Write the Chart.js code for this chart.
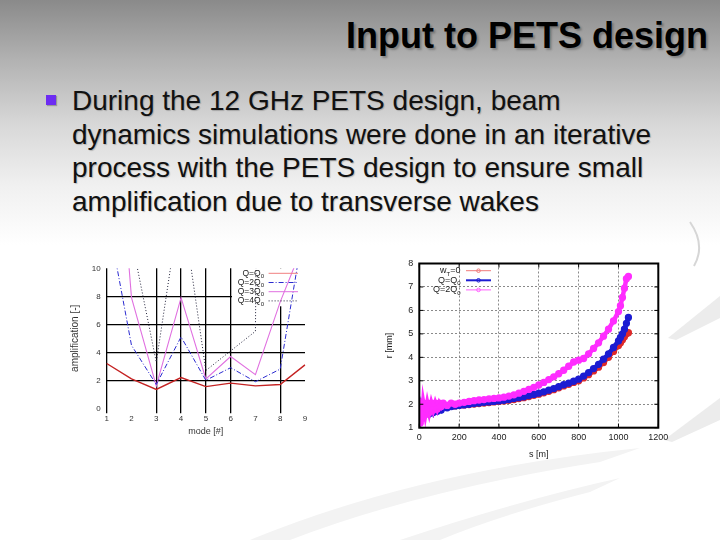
<!DOCTYPE html>
<html>
<head>
<meta charset="utf-8">
<script src="https://cdn.jsdelivr.net/npm/chart.js@4.4.0/dist/chart.umd.min.js"></script>
<style>
body { margin: 0; }
#slide {
  position: relative; width: 720px; height: 540px; overflow: hidden;
  background: linear-gradient(to bottom, #8a8a8a 0px, #b2b2b2 60px, #d8d8d8 125px, #f0f0f0 185px, #ffffff 245px);
  font-family: "Liberation Sans", Arial, sans-serif;
}
#title { position: absolute; right: 12px; top: 15px; font-weight: bold; font-size: 36px; color: #000;
  text-shadow: 2px 2px 2px rgba(0,0,0,0.25); white-space: nowrap; }
#bullet { position: absolute; left: 46px; top: 95px; width: 10px; height: 10px; background: #6d2cf2;
  box-shadow: 1px 1px 1px rgba(0,0,0,0.25); }
#body { position: absolute; left: 72px; top: 84px; font-size: 28px; line-height: 33.5px; color: #111;
  text-shadow: 1px 1px 1px rgba(0,0,0,0.2); white-space: nowrap; }
#deco { position: absolute; left: 0; top: 0; }
canvas { position: absolute; }
#ampChart { left: 60px; top: 258px; }
#radChart { left: 380px; top: 255px; }
</style>
</head>
<body>
<div id="slide">
  <svg id="deco" width="720" height="540">
    <path d="M690 222 Q706 245 694 266" stroke="#d6d6d6" stroke-width="2" fill="none"/>
    <path d="M668 338 L720 296 L720 318 L676 340 Z" fill="#ececec"/>
    <path d="M664 440 L720 398 L720 420 L672 442 Z" fill="#ececec"/>
    <path d="M250 540 Q420 470 640 448 L600 462 Q420 490 290 540 Z" fill="#f3f3f3"/>
    <path d="M400 540 Q520 500 620 478 L590 492 Q500 515 440 540 Z" fill="#f3f3f3"/>
  </svg>
  <div id="title">Input to PETS design</div>
  <div id="bullet"></div>
  <div id="body">During the 12 GHz PETS design, beam<br>dynamics simulations were done in an iterative<br>process with the PETS design to ensure small<br>amplification due to transverse wakes</div>
  <canvas id="ampChart" width="250" height="183"></canvas>
  <canvas id="radChart" width="292" height="215"></canvas>
</div>
<script>
// left plot: amplification per mode
var modes = [1, 2, 3, 4, 5, 6, 7, 8, 9];
var ampQ1 = [3.2, 2.1, 1.35, 2.2, 1.55, 1.8, 1.6, 1.7, 3.1];
var ampQ2 = [14, 4.5, 1.7, 5.1, 2.0, 2.9, 1.9, 2.8, 13.4];
var ampQ3 = [30, 7.9, 1.6, 7.9, 2.1, 3.7, 2.4, 7.6, 12];
var ampQ4 = [20, 12.1, 3.3, 15, 2.7, 4.1, 5.5, 200, 200];
var ampKey = [['Q=Q', '0', ''], ['Q=2Q', '0', ''], ['Q=3Q', '0', ''], ['Q=4Q', '0', '']];

// right plot: beam radius along the decelerator
var sPos = [0, 5, 10, 15, 20, 30, 40, 50, 60, 70, 80, 90, 100, 110, 120, 140, 160, 180, 200, 225, 250, 275, 300, 325, 350, 375, 400, 425, 450, 475, 500, 525, 550, 575, 600, 625, 650, 675, 700, 725, 750, 775, 800, 825, 850, 875, 900, 925, 950, 975, 1000, 1010, 1020, 1030, 1040, 1050];
var rNoWake = [1.95, 1.6, 1.85, 1.7, 1.9, 1.75, 1.9, 1.8, 1.9, 1.8, 1.9, 1.85, 1.9, 1.88, 1.9, 1.9, 1.92, 1.93, 1.95, 1.97, 1.99, 2.01, 2.03, 2.05, 2.07, 2.1, 2.12, 2.14, 2.17, 2.2, 2.24, 2.28, 2.33, 2.38, 2.43, 2.49, 2.55, 2.62, 2.7, 2.78, 2.85, 2.93, 3.0, 3.12, 3.26, 3.42, 3.58, 3.78, 4.0, 4.25, 4.5, 4.62, 4.75, 4.88, 5.0, 5.05];
var rQ1 = [1.9, 1.5, 1.8, 1.6, 1.85, 1.65, 1.85, 1.6, 1.85, 1.65, 1.85, 1.7, 1.85, 1.75, 1.88, 1.85, 1.9, 1.93, 1.95, 1.97, 2.0, 2.03, 2.05, 2.08, 2.1, 2.12, 2.14, 2.17, 2.2, 2.24, 2.28, 2.32, 2.37, 2.42, 2.47, 2.53, 2.6, 2.67, 2.75, 2.83, 2.9, 2.98, 3.07, 3.2, 3.35, 3.52, 3.7, 3.92, 4.15, 4.42, 4.7, 4.85, 5.0, 5.2, 5.45, 5.7];
var rQ2 = [2.1, 1.2, 1.9, 1.4, 2.05, 1.55, 2.05, 1.65, 2.05, 1.75, 2.05, 1.8, 2.05, 1.9, 2.05, 1.95, 2.05, 2.0, 2.05, 2.08, 2.12, 2.15, 2.18, 2.2, 2.23, 2.25, 2.27, 2.3, 2.35, 2.4, 2.47, 2.55, 2.63, 2.72, 2.82, 2.93, 3.05, 3.17, 3.3, 3.45, 3.62, 3.8, 3.88, 3.95, 4.15, 4.38, 4.62, 4.9, 5.2, 5.55, 5.95, 6.2, 6.55, 6.95, 7.35, 7.45];
var radKey = [['w', 'T', '=0'], ['Q=Q', '0', ''], ['Q=2Q', '0', '']];

Chart.defaults.font.family = '"Liberation Sans", Arial, sans-serif';
Chart.defaults.color = '#222';

function pairs(xs, ys) {
    return xs.map(function (x, i) { return {x: x, y: ys[i]}; });
}

// fixed axis sizes so the plot boxes land where the picture has them
function fixW(w) {
    return function (s) { s.width = w; s.paddingTop = 0; s.paddingBottom = 0; };
}
function fixH(h) {
    return function (s) { s.height = h; s.paddingLeft = 0; s.paddingRight = 0; };
}

// legend drawn inside the plot like gnuplot's key
var keyPlugin = {
    id: 'keyBox',
    beforeDatasetsDraw: function (chart, args, o) {
        if (!o.bg) return;
        var ctx = chart.ctx;
        ctx.save();
        ctx.fillStyle = o.bg;
        ctx.fillRect(o.box[0], o.box[1], o.box[2], o.box[3]);
        ctx.restore();
    },
    afterDatasetsDraw: function (chart, args, o) {
        var ctx = chart.ctx;
        ctx.save();
        ctx.textBaseline = 'middle';
        o.items.forEach(function (it, i) {
            var ds = chart.data.datasets[i];
            var y = o.y + i * o.rowH;
            var big = o.size + 'px "Liberation Sans"';
            var small = Math.round(o.size * 0.72) + 'px "Liberation Sans"';
            ctx.font = big;
            var w1 = ctx.measureText(it[0]).width, w3 = ctx.measureText(it[2]).width;
            ctx.font = small;
            var w2 = ctx.measureText(it[1]).width;
            var x = o.textRight - w1 - w2 - w3;
            ctx.fillStyle = '#222';
            ctx.font = big;
            ctx.fillText(it[0], x, y);
            ctx.font = small;
            ctx.fillText(it[1], x + w1, y + o.size * 0.35);
            ctx.font = big;
            ctx.fillText(it[2], x + w1 + w2, y);
            ctx.strokeStyle = o.colors ? o.colors[i] : ds.borderColor;
            ctx.lineWidth = o.widths ? o.widths[i] : ds.borderWidth;
            ctx.setLineDash(ds.borderDash || []);
            ctx.beginPath();
            ctx.moveTo(o.x0, y);
            ctx.lineTo(o.x1, y);
            ctx.stroke();
            if (o.marker) {
                ctx.setLineDash([]);
                ctx.lineWidth = 1;
                ctx.beginPath();
                ctx.arc((o.x0 + o.x1) / 2, y, 1.8, 0, Math.PI * 2);
                ctx.stroke();
            }
        });
        ctx.restore();
    }
};

// gnuplot style box with inward ticks
var framePlugin = {
    id: 'frame',
    afterDatasetsDraw: function (chart) {
        var a = chart.chartArea, ctx = chart.ctx;
        ctx.save();
        ctx.strokeStyle = '#000';
        ctx.lineWidth = 2;
        ctx.strokeRect(a.left, a.top, a.right - a.left, a.bottom - a.top);
        ctx.lineWidth = 1;
        ctx.beginPath();
        chart.scales.x.ticks.forEach(function (t) {
            var px = chart.scales.x.getPixelForValue(t.value);
            ctx.moveTo(px, a.bottom); ctx.lineTo(px, a.bottom - 4);
            ctx.moveTo(px, a.top); ctx.lineTo(px, a.top + 4);
        });
        chart.scales.y.ticks.forEach(function (t) {
            var py = chart.scales.y.getPixelForValue(t.value);
            ctx.moveTo(a.left, py); ctx.lineTo(a.left + 4, py);
            ctx.moveTo(a.right, py); ctx.lineTo(a.right - 4, py);
        });
        ctx.stroke();
        ctx.restore();
    }
};

new Chart(document.getElementById('ampChart'), {
    type: 'line',
    data: {
        labels: modes,
        datasets: [
            {label: 'Q=Q₀', data: ampQ1, borderColor: '#c42323', borderWidth: 1.4, pointRadius: 0},
            {label: 'Q=2Q₀', data: ampQ2, borderColor: '#2b2bd0', borderWidth: 1, borderDash: [5, 2, 1, 2], pointRadius: 0},
            {label: 'Q=3Q₀', data: ampQ3, borderColor: '#e070e0', borderWidth: 1.1, pointRadius: 0},
            {label: 'Q=4Q₀', data: ampQ4, borderColor: '#22223a', borderWidth: 1, borderDash: [1, 2], pointRadius: 0}
        ]
    },
    options: {
        responsive: false,
        animation: false,
        devicePixelRatio: 1,
        layout: {padding: {left: 0, right: 5, top: 10.3, bottom: 0}},
        plugins: {
            legend: {display: false},
            tooltip: {enabled: false},
            keyBox: {
                bg: '#ffffff', box: [172, 10.3, 73, 38],
                items: ampKey, y: 15.3, rowH: 9.2, size: 8.5, textRight: 204, x0: 208.6, x1: 238,
                colors: ['#f08080', '#2b2bd0', '#e070e0', '#22223a'], widths: [1, 1, 1, 1]
            }
        },
        scales: {
            x: {
                offset: false,
                afterFit: fixH(32.7),
                grid: {
                    color: function (c) { return [0, 2, 3, 4, 5, 7].indexOf(c.index) >= 0 ? '#000' : 'rgba(0,0,0,0)'; },
                    lineWidth: 1.3, tickLength: 5
                },
                border: {display: false},
                ticks: {font: {size: 8}, padding: 1, maxRotation: 0, color: '#333'},
                title: {display: true, text: 'mode [#]', font: {size: 9}, padding: {top: 0, bottom: 3.6}, color: '#333'}
            },
            y: {
                min: 0, max: 10,
                afterFit: fixW(46.7),
                grid: {
                    color: function (c) { return [2, 4, 6, 8].indexOf(c.tick.value) >= 0 ? '#000' : 'rgba(0,0,0,0)'; },
                    lineWidth: 1.3, drawTicks: false
                },
                border: {display: false},
                ticks: {stepSize: 2, font: {size: 8}, padding: 6, color: '#333'},
                title: {display: true, text: 'amplification [-]', font: {size: 10}, padding: {top: 9, bottom: 0}, color: '#333'}
            }
        }
    },
    plugins: [keyPlugin]
});

new Chart(document.getElementById('radChart'), {
    type: 'scatter',
    data: {
        datasets: [
            {label: 'Q=2Q₀', data: pairs(sPos, rQ2), borderColor: '#ff2cff', backgroundColor: '#ff2cff', showLine: true, borderWidth: 4.5, pointRadius: 1.4, order: 0},
            {label: 'Q=Q₀', data: pairs(sPos, rQ1), borderColor: '#1c1cd2', backgroundColor: '#1c1cd2', showLine: true, borderWidth: 4.5, pointRadius: 1.4, order: 1},
            {label: 'w_T=0', data: pairs(sPos, rNoWake), borderColor: '#de2a2a', backgroundColor: '#de2a2a', showLine: true, borderWidth: 4.5, pointRadius: 1.4, order: 2}
        ]
    },
    options: {
        responsive: false,
        animation: false,
        devicePixelRatio: 1,
        layout: {padding: {left: 0, right: 13.7, top: 8.3, bottom: 0}},
        plugins: {
            legend: {display: false},
            tooltip: {enabled: false},
            keyBox: {
                items: radKey, y: 15.7, rowH: 9.6, size: 9, textRight: 80.5, x0: 86, x1: 111,
                colors: ['#f07a7a', '#1c1cd2', '#ff60ff'], widths: [1, 2, 1], marker: true
            }
        },
        scales: {
            x: {
                type: 'linear', min: 0, max: 1200,
                afterFit: fixH(42.3),
                grid: {color: '#8a8a8a', lineWidth: 1, drawTicks: false},
                border: {display: false, dash: [2, 2]},
                ticks: {stepSize: 200, font: {size: 9}, padding: 4, maxRotation: 0, color: '#222',
                    callback: function (v) { return String(v); }},
                title: {display: true, text: 's [m]', font: {size: 9}, padding: {top: 0, bottom: 10.3}, color: '#222'}
            },
            y: {
                min: 1, max: 8,
                afterFit: fixW(39.3),
                grid: {color: '#8a8a8a', lineWidth: 1, drawTicks: false},
                border: {display: false, dash: [2, 2]},
                ticks: {stepSize: 1, font: {size: 9}, padding: 6, color: '#222'},
                title: {display: true, text: 'r [mm]', font: {size: 9}, padding: {top: 4.6, bottom: 0}, color: '#222'}
            }
        }
    },
    plugins: [framePlugin, keyPlugin]
});
</script>
</body>
</html>
